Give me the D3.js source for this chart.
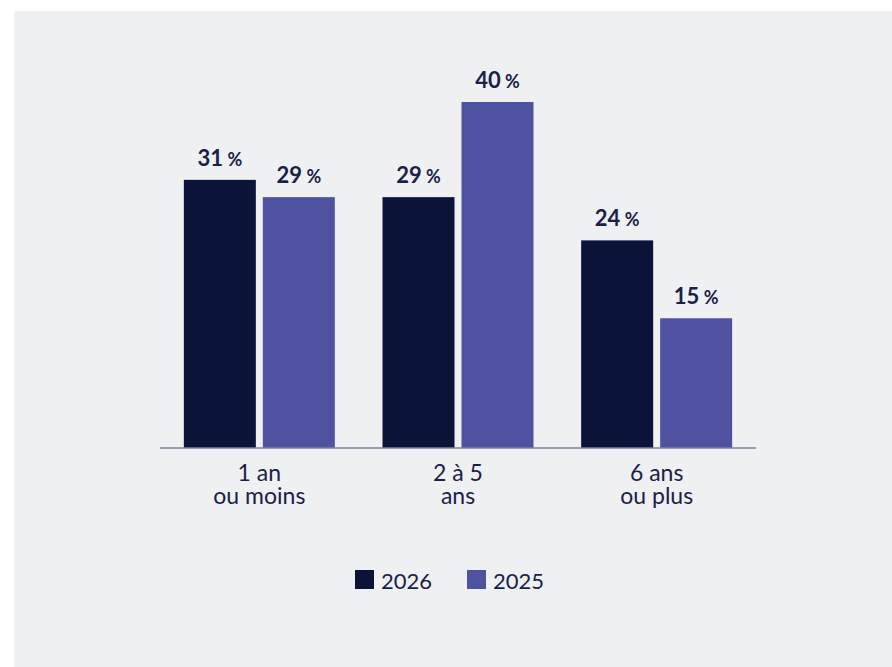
<!DOCTYPE html>
<html>
<head>
<meta charset="utf-8">
<script src="https://cdn.jsdelivr.net/npm/d3@7"></script>
<style>
  body { margin: 0; background: #ffffff; }
  svg { display: block; font-family: Lato, "Open Sans", sans-serif; }
</style>
</head>
<body>
<div id="chart"></div>
<script>
// donnees
var categories = [["1 an", "ou moins"], ["2 à 5", "ans"], ["6 ans", "ou plus"]]
var series = ["2026", "2025"]
var valeurs_2026 = [31, 29, 24]
var valeurs_2025 = [29, 40, 15]
var couleurs = {"2026": "#0b1438", "2025": "#4f51a1"}

var width = 892, height = 667
var text_color = "#1a2148"
var baseline = 448

var svg = d3.select("#chart").append("svg")
    .attr("width", width)
    .attr("height", height)

// panneau gris
svg.append("rect")
    .attr("x", 14)
    .attr("y", 11)
    .attr("width", width - 14)
    .attr("height", height - 11)
    .attr("fill", "#eff0f2")

var cat_keys = categories.map(function(d){ return d.join(" ") })
var data = cat_keys.map(function(k, i){
    return {cat: k, lines: categories[i], values: [
        {serie: "2026", v: valeurs_2026[i]},
        {serie: "2025", v: valeurs_2025[i]}
    ]}
})

var x0 = d3.scaleBand()
    .domain(cat_keys)
    .range([160, 756])
    .paddingInner(0.24)
    .paddingOuter(0.12)
var x1 = d3.scaleBand()
    .domain(series)
    .range([0, x0.bandwidth()])
    .paddingInner(0.0886)
var y = d3.scaleLinear()
    .domain([0, 40])
    .range([baseline, baseline - 346])

var groups = svg.selectAll(".groupe")
    .data(data).enter()
    .append("g")
    .attr("class", "groupe")
    .attr("transform", function(d){ return "translate(" + x0(d.cat) + ",0)" })

groups.selectAll("rect")
    .data(function(d){ return d.values }).enter()
    .append("rect")
    .attr("x", function(d){ return x1(d.serie) })
    .attr("y", function(d){ return y(d.v) })
    .attr("width", x1.bandwidth())
    .attr("height", function(d){ return baseline - y(d.v) })
    .attr("fill", function(d){ return couleurs[d.serie] })

// etiquettes de valeur
var lbl = groups.selectAll(".valeur")
    .data(function(d){ return d.values }).enter()
    .append("text")
    .attr("class", "valeur")
    .attr("x", function(d){ return x1(d.serie) + x1.bandwidth()/2 })
    .attr("y", function(d){ return y(d.v) - 14 })
    .attr("text-anchor", "middle")
    .attr("fill", text_color)
lbl.append("tspan")
    .text(function(d){ return d.v })
    .attr("font-size", 22)
    .attr("font-weight", "bold")
lbl.append("tspan")
    .text(" %")
    .attr("font-size", 18)
    .attr("font-weight", "bold")

// axe
svg.append("line")
    .attr("x1", 160)
    .attr("x2", 756)
    .attr("y1", baseline)
    .attr("y2", baseline)
    .attr("stroke", "#7c82a0")
    .attr("stroke-width", 1.5)

// etiquettes categories
var cat_text = svg.selectAll(".categorie")
    .data(data).enter()
    .append("text")
    .attr("class", "categorie")
    .attr("text-anchor", "middle")
    .attr("font-size", 23)
    .attr("fill", text_color)
cat_text.selectAll("tspan")
    .data(function(d){ return d.lines.map(function(l){ return {l: l, c: d.cat} }) }).enter()
    .append("tspan")
    .attr("x", function(d){ return x0(d.c) + x0.bandwidth()/2 })
    .attr("y", function(d, i){ return 481 + i*23 })
    .text(function(d){ return d.l })

// legende
var leg_x = [355, 467]
var legend = svg.selectAll(".legende")
    .data(series).enter()
    .append("g")
    .attr("class", "legende")
    .attr("transform", function(d, i){ return "translate(" + leg_x[i] + ",570)" })
legend.append("rect")
    .attr("width", 19)
    .attr("height", 19)
    .attr("fill", function(d){ return couleurs[d] })
legend.append("text")
    .text(function(d){ return d })
    .attr("x", 26)
    .attr("y", 19)
    .attr("font-size", 22)
    .attr("fill", text_color)
</script>
</body>
</html>
